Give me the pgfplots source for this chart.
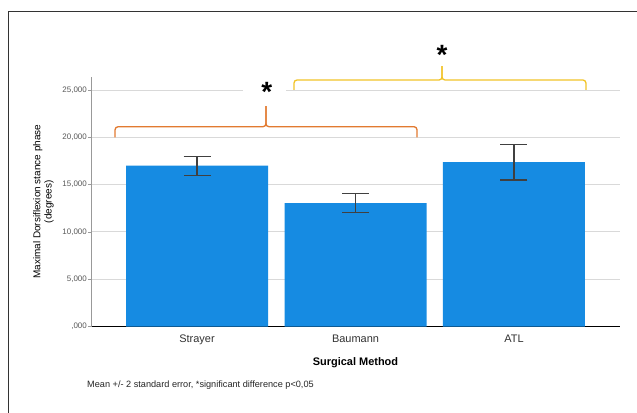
\documentclass[border=0pt]{standalone}
\usepackage{fontspec}
\setmainfont{Liberation Sans}
\usepackage{pgfplots}
\pgfplotsset{compat=1.18}
\definecolor{barblue}{RGB}{22,139,226}
\definecolor{brorange}{RGB}{226,122,48}
\definecolor{bryellow}{RGB}{242,196,40}
\definecolor{gridgray}{RGB}{217,217,217}
\begin{document}
\begin{tikzpicture}
\useasboundingbox (0,0) rectangle (637bp,413bp);
\fill[white] (0,0) rectangle (637bp,413bp);
\draw[black!80, line width=1bp] (8bp,0) -- (8bp,401bp) -- (637bp,401bp);
\begin{axis}[
  at={(91bp,86.5bp)}, anchor=south west,
  scale only axis, width=529bp, height=249.5bp,
  xmin=-0.669, xmax=2.669, ymin=0, ymax=26374,
  clip=false,
  scaled y ticks=false,
  axis lines*=left,
  x axis line style={black, line width=1.6bp},
  y axis line style={black!40, line width=0.8bp},
  xtick={0,1,2}, xticklabels={Strayer,Baumann,ATL},
  x tick style={draw=none},
  ytick={0,5000,10000,15000,20000,25000},
  yticklabels={{,000},{5,000},{10,000},{15,000},{20,000},{25,000}},
  y tick style={black!40, line width=0.6bp},
  tick align=outside, major tick length=3bp,
  ymajorgrids, grid style={gridgray, line width=0.8bp},
  yticklabel style={font=\fontsize{8}{9}\selectfont, text=black!65, inner sep=0pt, anchor=east, xshift=-1bp},
  xticklabel style={font=\fontsize{11}{12}\selectfont, text=black!80, anchor=north, inner sep=0pt, yshift=-5bp},
  xlabel={Surgical Method},
  xlabel style={font=\fontsize{11}{13}\bfseries\selectfont, at={(axis description cs:0.5,-0.1222)}, anchor=north, inner sep=0pt},
  ylabel={Maximal Dorsiflexion stance phase\\(degrees)},
  ylabel style={font=\fontsize{10}{11.3}\selectfont, align=center, at={(axis description cs:-0.09,0.5)}, anchor=center, inner sep=0pt},
]
\addplot[ybar, bar width=142bp, fill=barblue, draw=none,
  error bars/.cd, y dir=both, y explicit, error mark=|,
  error bar style={black!75, line width=1.2bp},
  error mark options={black!75, line width=1.2bp, mark size=13.5bp}]
  table[x=x, y=y, y error=e] {
x y e
0 17000 1010
1 13030 1000
2 17380 1890
};
\draw[brorange, line width=1.3bp, rounded corners=3bp] (axis cs:-0.517,20000) -- (axis cs:-0.517,21119) -- (axis cs:0.435,21119) -- (axis cs:0.435,23307);
\draw[brorange, line width=1.3bp, rounded corners=3bp] (axis cs:1.388,20000) -- (axis cs:1.388,21119) -- (axis cs:0.435,21119) -- (axis cs:0.435,23307);
\draw[bryellow, line width=1.3bp, rounded corners=3bp] (axis cs:0.612,25000) -- (axis cs:0.612,26056) -- (axis cs:1.546,26056) -- (axis cs:1.546,27534);
\draw[bryellow, line width=1.3bp, rounded corners=3bp] (axis cs:2.454,25000) -- (axis cs:2.454,26056) -- (axis cs:1.546,26056) -- (axis cs:1.546,27534);
\node[fill=white, inner sep=0pt, minimum width=43bp, minimum height=8bp] at (axis cs:0.426,25000) {};
\node[font=\fontsize{28}{28}\bfseries\selectfont, inner sep=0pt] at (axis cs:0.44,24830) {*};
\node[font=\fontsize{28}{28}\bfseries\selectfont, inner sep=0pt] at (axis cs:1.546,28700) {*};
\end{axis}
\node[anchor=west, font=\fontsize{9.2}{10}\selectfont, inner sep=0pt, text=black!85] at (87bp,28bp) {Mean +/- 2 standard error, *significant difference p<0,05};
\end{tikzpicture}
\end{document}
